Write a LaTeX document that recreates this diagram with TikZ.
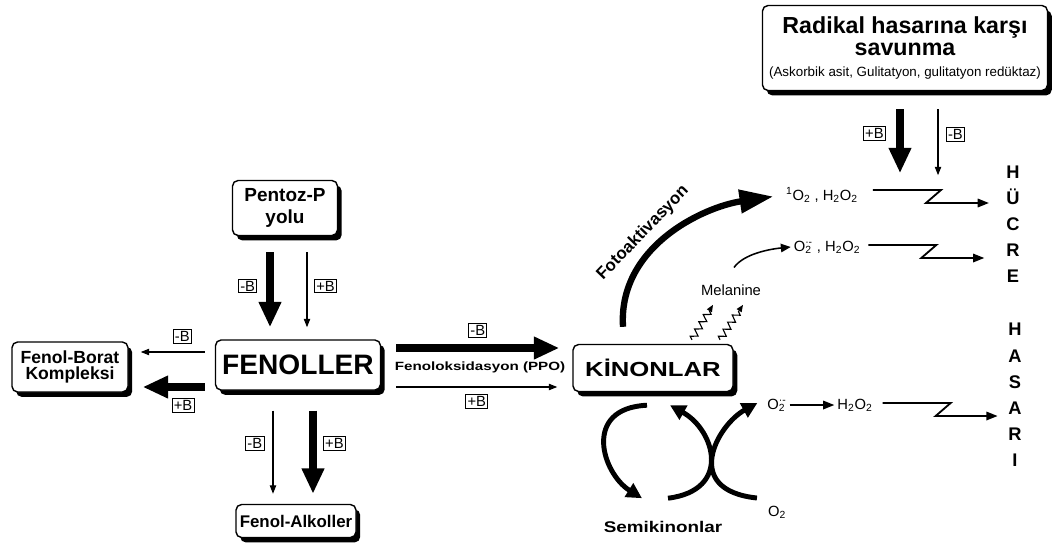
\documentclass[tikz,border=0pt]{standalone}
\usepackage{fontspec}
\setmainfont{Liberation Sans}
\usepackage{graphicx}
\usetikzlibrary{arrows.meta,calc,shadows,decorations.pathmorphing}
\newcommand{\fsz}[2]{\fontsize{#1}{#2}\selectfont}

\begin{document}
\begin{tikzpicture}[x=0.025cm,y=-0.025cm,
  box/.style={draw,line width=1pt,rounded corners=4pt,fill=white,align=center,inner sep=2pt,
    general shadow={fill=black,shadow xshift=3pt,shadow yshift=-3.5pt}},
  lbl/.style={draw,line width=0.7pt,inner sep=1.3pt,fill=white,font=\fsz{10.5}{11}},
  txt/.style={inner sep=2pt,font=\fsz{10.5}{12}},
  arr/.style={line width=0.8pt,-{Triangle[width=4.5pt,length=6pt]}},
  tarr/.style={line width=5.5pt,-{Triangle[width=15pt,length=18pt]}},
  carr/.style={line width=3.5pt,-{Triangle[width=11pt,length=11pt]}},
  zarr/.style={line width=1.3pt,-{Triangle[width=6pt,length=8pt]}},
  sqarr/.style={line width=0.8pt,-{Triangle[width=4pt,length=5pt]},decorate,
    decoration={zigzag,segment length=6pt,amplitude=2.4pt,post length=4pt}}]
\fill[white] (0,0) rectangle (1056,548);
\useasboundingbox (0,0) rectangle (1056,548);
% boxes
\node[box,font=\fsz{16.5}{15.6}\bfseries,minimum width=7.125cm,minimum height=2.125cm] (radikal) at (905,48) {Radikal hasarına karşı\\savunma\\{\mdseries\fsz{9.5}{11}(Askorbik asit, Gulitatyon, gulitatyon redüktaz)}};
\node[box,font=\fsz{13.5}{16}\bfseries,minimum width=2.625cm,minimum height=1.375cm] (pentoz) at (285,208) {Pentoz-P\\yolu};
\node[box,font=\fsz{20}{22}\bfseries,minimum width=4.125cm,minimum height=1.25cm] (fenol) at (298,365) {FENOLLER};
\node[box,font=\fsz{12.5}{12}\bfseries,minimum width=2.9cm,minimum height=1.25cm] (borat) at (70,367) {Fenol-Borat\\Kompleksi};
\node[box,font=\fsz{12}{14}\bfseries,minimum width=3cm,minimum height=0.825cm] (alkol) at (296,521) {Fenol-Alkoller};
\node[box,font=\fsz{14.5}{16}\bfseries,minimum width=4cm,minimum height=1.175cm] (kinon) at (653,368) {\scalebox{1.26}[1]{KİNONLAR}};
% texts
\node[font=\fsz{8.5}{10}\bfseries,inner sep=1pt] (ppo) at (480,367) {\scalebox{1.27}[1]{Fenoloksidasyon (PPO)}};
\node[font=\fsz{11}{13}\bfseries] (semi) at (663,527) {\scalebox{1.22}[1]{Semikinonlar}};
\node[txt] (melan) at (731,290) {Melanine};
\node[txt] (oxa) at (822,195) {\textsuperscript{1}O\textsubscript{2} , H\textsubscript{2}O\textsubscript{2}};
\node[txt] (oxb) at (827,247) {O\rlap{\textsubscript{2}}\textsuperscript{·-} , H\textsubscript{2}O\textsubscript{2}};
\node[txt] (supox) at (777,405) {O\rlap{\textsubscript{2}}\textsuperscript{·-}};
\node[txt] (hperox) at (855,405) {H\textsubscript{2}O\textsubscript{2}};
\node[txt] (oxy) at (777,512) {O\textsubscript{2}};
\node[font=\fsz{12}{14}\bfseries,rotate=46] (foto) at (643,233) {Fotoaktivasyon};
\node[font=\fsz{13}{18.4}\bfseries,align=center] (hucre) at (1013,224) {H\\Ü\\C\\R\\E};
\node[font=\fsz{13}{18.6}\bfseries,align=center] (hasari) at (1015,395) {H\\A\\S\\A\\R\\I};
% pentoz -> fenoller
\draw[tarr] ($(pentoz.south)+(-15,16)$) -- node[lbl,pos=0.45,left=9pt]{-B} ($(fenol.north)+(-28,-12)$);
\draw[arr] ($(pentoz.south)+(22,16)$) -- node[lbl,pos=0.45,right=5pt]{+B} ($(fenol.north)+(9,-12)$);
% fenoller -> borat
\draw[arr] ($(fenol.west)+(-10,-13)$) -- node[lbl,pos=0.35,above=6pt]{-B} ($(borat.east)+(12,-15)$);
\draw[tarr] ($(fenol.west)+(-10,22)$) -- node[lbl,pos=0.35,below=8pt]{+B} ($(borat.east)+(14,20)$);
% fenoller -> alkoller
\draw[arr] ($(fenol.south)+(-25,20)$) -- node[lbl,pos=0.39,left=6pt]{-B} ($(alkol.north)+(-23,-10)$);
\draw[tarr] ($(fenol.south)+(15,20)$) -- node[lbl,pos=0.39,right=7pt]{+B} ($(alkol.north)+(17,-10)$);
% fenoller -> kinonlar
\draw[tarr] ($(fenol.east)+(15,-17)$) -- node[lbl,pos=0.5,above=7pt]{-B} ($(kinon.west)+(-13,-20)$);
\draw[arr] ($(fenol.east)+(15,22)$) -- node[lbl,pos=0.5,below=5pt]{+B} ($(kinon.west)+(-15,19)$);
% savunma
\draw[tarr] ($(radikal.south)+(-5,18)$) -- node[lbl,pos=0.38,left=10pt]{+B} ++(0,64);
\draw[arr] ($(radikal.south)+(33,18)$) -- node[lbl,pos=0.38,right=5.5pt]{-B} ++(0,66);
% fotoaktivasyon, melanine
\draw[line width=4.5pt,-{Triangle[width=16pt,length=24pt]},shorten >=7pt] ($(kinon.north)+(-30,-17)$) .. controls +(-5,-80) and +(-80,12) .. (oxa.west);
\draw[line width=1.1pt,-{Triangle[width=6pt,length=7pt]}] ($(melan.north)+(3,-14)$) .. controls +(10,-14) and +(-20,2) .. (oxb.west);
\draw[sqarr] ($(kinon.north)+(39,-4)$) -- ++(21,-35);
\draw[sqarr] ($(kinon.north)+(67,-4)$) -- ++(23,-35);
% hasar
\draw[zarr] ($(oxa.east)+(12,-5)$) -- ++(68,0) -- ++(-15,13) -- ++(63,0);
\draw[zarr] ($(oxb.east)+(5,-2)$) -- ++(68,0) -- ++(-15,13) -- ++(63,0);
\draw[zarr] (supox.east) -- (hperox.west);
\draw[zarr] ($(hperox.east)+(7,-2)$) -- ++(68,0) -- ++(-15,13) -- ++(62,0);
% semikinon cycle
\draw[carr] ($(kinon.south)+(-6,13)$) .. controls +(-65,3) and +(-40,-25) .. ($(kinon.south)+(-11,106)$);
\draw[carr] ($(kinon.south)+(15,106)$) .. controls +(64,-8) and +(45,25) .. ($(kinon.south)+(17,13)$);
\draw[carr] ($(oxy.west)+(-8,-14)$) .. controls +(-76,-8) and +(-40,22) .. ($(supox.west)+(-7,-2)$);
\end{tikzpicture}
\end{document}
